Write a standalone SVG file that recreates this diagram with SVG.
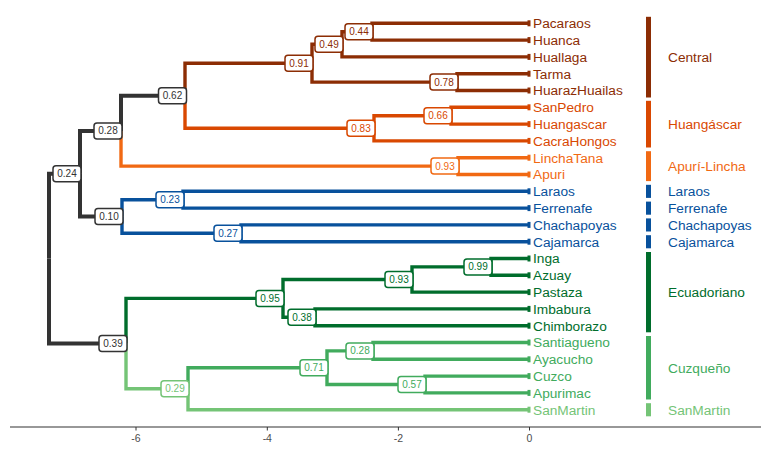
<svg xmlns="http://www.w3.org/2000/svg" width="768" height="451" viewBox="0 0 768 451">
<style>
.br{fill:none;stroke-width:3.4;stroke-linejoin:miter;stroke-linecap:butt}
.gy{stroke:#333333}.ce{stroke:#8C2D04}.hu{stroke:#D94801}.ap{stroke:#F16913}.bl{stroke:#08519C}.ec{stroke:#006D2C}.cu{stroke:#41AB5D}.sm{stroke:#74C476}
.gyf{fill:#333333}.cef{fill:#8C2D04}.huf{fill:#D94801}.apf{fill:#F16913}.blf{fill:#08519C}.ecf{fill:#006D2C}.cuf{fill:#41AB5D}.smf{fill:#74C476}
.tip{font-family:"Liberation Sans",Arial,sans-serif;font-size:13.7px}
.grp{font-family:"Liberation Sans",Arial,sans-serif;font-size:13.7px}
.sup rect{fill:#ffffff;stroke-width:1.5}
.sup text{font-family:"Liberation Sans",Arial,sans-serif;font-size:10px;text-anchor:middle}
.axis{font-family:"Liberation Sans",Arial,sans-serif;font-size:10.5px;fill:#4D4D4D;text-anchor:middle}
</style>
<rect width="768" height="451" fill="#ffffff"/>
<g id="connectors">
<!-- root -->
<path class="br gy" style="stroke-width:4" d="M49,258.6V173.7H80"/>
<path class="br gy" style="stroke-width:4" d="M49,258.6V343.5H126"/>
<!-- A -->
<path class="br gy" style="stroke-width:4" d="M80,173.7V130.9H121"/>
<path class="br gy" style="stroke-width:4" d="M80,173.7V216.5H122"/>
<!-- C -->
<path class="br gy" style="stroke-width:4" d="M121,130.9V95.75H185"/>
<path class="br ap" d="M121,130.9V166.1H458"/>
<!-- E -->
<path class="br ce" d="M185,95.75V63.2H312"/>
<path class="br hu" d="M185,95.75V128.3H374"/>
<!-- G -->
<path class="br ce" d="M312,63.2V44.3H342"/>
<path class="br ce" d="M312,63.2V82.1H457"/>
<!-- H -->
<path class="br ce" d="M342,44.3V31.7H372"/>
<path class="br ce" d="M342,44.3V56.9H530"/>
<!-- J -->
<path class="br ce" d="M372,31.7V23.3H530"/>
<path class="br ce" d="M372,31.7V40.1H530"/>
<!-- I -->
<path class="br ce" d="M457,82.1V73.7H530"/>
<path class="br ce" d="M457,82.1V90.5H530"/>
<!-- K -->
<path class="br hu" d="M374,128.3V115.7H451"/>
<path class="br hu" d="M374,128.3V140.9H530"/>
<!-- L -->
<path class="br hu" d="M451,115.7V107.3H530"/>
<path class="br hu" d="M451,115.7V124.1H530"/>
<!-- M -->
<path class="br ap" d="M458,166.1V157.7H530"/>
<path class="br ap" d="M458,166.1V174.5H530"/>
<!-- D -->
<path class="br bl" d="M122,216.5V199.7H183"/>
<path class="br bl" d="M122,216.5V233.3H241"/>
<!-- N -->
<path class="br bl" d="M183,199.7V191.3H530"/>
<path class="br bl" d="M183,199.7V208.1H530"/>
<!-- O -->
<path class="br bl" d="M241,233.3V224.9H530"/>
<path class="br bl" d="M241,233.3V241.7H530"/>
<!-- B -->
<path class="br ec" d="M126,343.5V298.4H283"/>
<path class="br sm" d="M126,343.5V388.7H188"/>
<!-- P -->
<path class="br ec" d="M283,298.4V279.5H412"/>
<path class="br ec" d="M283,298.4V317.3H315"/>
<!-- Q -->
<path class="br ec" d="M412,279.5V266.9H491"/>
<path class="br ec" d="M412,279.5V292.1H530"/>
<!-- S -->
<path class="br ec" d="M491,266.9V258.5H530"/>
<path class="br ec" d="M491,266.9V275.3H530"/>
<!-- R -->
<path class="br ec" d="M315,317.3V308.9H530"/>
<path class="br ec" d="M315,317.3V325.7H530"/>
<!-- W -->
<path class="br cu" d="M188,388.7V367.7H327"/>
<path class="br sm" d="M188,388.7V409.7H530"/>
<!-- T -->
<path class="br cu" d="M327,367.7V350.9H373"/>
<path class="br cu" d="M327,367.7V384.5H425"/>
<!-- U -->
<path class="br cu" d="M373,350.9V342.5H530"/>
<path class="br cu" d="M373,350.9V359.3H530"/>
<!-- V -->
<path class="br cu" d="M425,384.5V376.1H530"/>
<path class="br cu" d="M425,384.5V392.9H530"/>
</g>
<g id="tips">
<g id="tip-Pacaraos"><rect class="cef" x="527.5" y="20.3" width="3" height="6"/><text class="tip cef" x="533" y="28.1">Pacaraos</text></g>
<g id="tip-Huanca"><rect class="cef" x="527.5" y="37.1" width="3" height="6"/><text class="tip cef" x="533" y="44.9">Huanca</text></g>
<g id="tip-Huallaga"><rect class="cef" x="527.5" y="53.9" width="3" height="6"/><text class="tip cef" x="533" y="61.7">Huallaga</text></g>
<g id="tip-Tarma"><rect class="cef" x="527.5" y="70.7" width="3" height="6"/><text class="tip cef" x="533" y="78.5">Tarma</text></g>
<g id="tip-HuarazHuailas"><rect class="cef" x="527.5" y="87.5" width="3" height="6"/><text class="tip cef" x="533" y="95.3">HuarazHuailas</text></g>
<g id="tip-SanPedro"><rect class="huf" x="527.5" y="104.3" width="3" height="6"/><text class="tip huf" x="533" y="112.1">SanPedro</text></g>
<g id="tip-Huangascar"><rect class="huf" x="527.5" y="121.1" width="3" height="6"/><text class="tip huf" x="533" y="128.9">Huangascar</text></g>
<g id="tip-CacraHongos"><rect class="huf" x="527.5" y="137.9" width="3" height="6"/><text class="tip huf" x="533" y="145.7">CacraHongos</text></g>
<g id="tip-LinchaTana"><rect class="apf" x="527.5" y="154.7" width="3" height="6"/><text class="tip apf" x="533" y="162.5">LinchaTana</text></g>
<g id="tip-Apuri"><rect class="apf" x="527.5" y="171.5" width="3" height="6"/><text class="tip apf" x="533" y="179.3">Apuri</text></g>
<g id="tip-Laraos"><rect class="blf" x="527.5" y="188.3" width="3" height="6"/><text class="tip blf" x="533" y="196.1">Laraos</text></g>
<g id="tip-Ferrenafe"><rect class="blf" x="527.5" y="205.1" width="3" height="6"/><text class="tip blf" x="533" y="212.9">Ferrenafe</text></g>
<g id="tip-Chachapoyas"><rect class="blf" x="527.5" y="221.9" width="3" height="6"/><text class="tip blf" x="533" y="229.7">Chachapoyas</text></g>
<g id="tip-Cajamarca"><rect class="blf" x="527.5" y="238.7" width="3" height="6"/><text class="tip blf" x="533" y="246.5">Cajamarca</text></g>
<g id="tip-Inga"><rect class="ecf" x="527.5" y="255.5" width="3" height="6"/><text class="tip ecf" x="533" y="263.3">Inga</text></g>
<g id="tip-Azuay"><rect class="ecf" x="527.5" y="272.3" width="3" height="6"/><text class="tip ecf" x="533" y="280.1">Azuay</text></g>
<g id="tip-Pastaza"><rect class="ecf" x="527.5" y="289.1" width="3" height="6"/><text class="tip ecf" x="533" y="296.9">Pastaza</text></g>
<g id="tip-Imbabura"><rect class="ecf" x="527.5" y="305.9" width="3" height="6"/><text class="tip ecf" x="533" y="313.7">Imbabura</text></g>
<g id="tip-Chimborazo"><rect class="ecf" x="527.5" y="322.7" width="3" height="6"/><text class="tip ecf" x="533" y="330.5">Chimborazo</text></g>
<g id="tip-Santiagueno"><rect class="cuf" x="527.5" y="339.5" width="3" height="6"/><text class="tip cuf" x="533" y="347.3">Santiagueno</text></g>
<g id="tip-Ayacucho"><rect class="cuf" x="527.5" y="356.3" width="3" height="6"/><text class="tip cuf" x="533" y="364.1">Ayacucho</text></g>
<g id="tip-Cuzco"><rect class="cuf" x="527.5" y="373.1" width="3" height="6"/><text class="tip cuf" x="533" y="380.9">Cuzco</text></g>
<g id="tip-Apurimac"><rect class="cuf" x="527.5" y="389.9" width="3" height="6"/><text class="tip cuf" x="533" y="397.7">Apurimac</text></g>
<g id="tip-SanMartin"><rect class="smf" x="527.5" y="406.7" width="3" height="6"/><text class="tip smf" x="533" y="414.5">SanMartin</text></g>
</g>
<g id="supports">
<g id="n-A" class="sup"><rect class="gy" x="53" y="165.7" width="28" height="16" rx="3"/><text class="gyf" x="67" y="177.2">0.24</text></g>
<g id="n-C" class="sup"><rect class="gy" x="94" y="122.9" width="28" height="16" rx="3"/><text class="gyf" x="108" y="134.4">0.28</text></g>
<g id="n-E" class="sup"><rect class="gy" x="158.5" y="87.75" width="28" height="16" rx="3"/><text class="gyf" x="172.5" y="99.25">0.62</text></g>
<g id="n-G" class="sup"><rect class="ce" x="285" y="55.2" width="28" height="16" rx="3"/><text class="cef" x="299" y="66.7">0.91</text></g>
<g id="n-H" class="sup"><rect class="ce" x="315" y="36.3" width="28" height="16" rx="3"/><text class="cef" x="329" y="47.8">0.49</text></g>
<g id="n-J" class="sup"><rect class="ce" x="345" y="23.7" width="28" height="16" rx="3"/><text class="cef" x="359" y="35.2">0.44</text></g>
<g id="n-I" class="sup"><rect class="ce" x="430" y="74.1" width="28" height="16" rx="3"/><text class="cef" x="444" y="85.6">0.78</text></g>
<g id="n-K" class="sup"><rect class="hu" x="347" y="120.3" width="28" height="16" rx="3"/><text class="huf" x="361" y="131.8">0.83</text></g>
<g id="n-L" class="sup"><rect class="hu" x="424" y="107.7" width="28" height="16" rx="3"/><text class="huf" x="438" y="119.2">0.66</text></g>
<g id="n-M" class="sup"><rect class="ap" x="431" y="158.1" width="28" height="16" rx="3"/><text class="apf" x="445" y="169.6">0.93</text></g>
<g id="n-D" class="sup"><rect class="gy" x="95" y="208.5" width="28" height="16" rx="3"/><text class="gyf" x="109" y="220">0.10</text></g>
<g id="n-N" class="sup"><rect class="bl" x="156" y="191.7" width="28" height="16" rx="3"/><text class="blf" x="170" y="203.2">0.23</text></g>
<g id="n-O" class="sup"><rect class="bl" x="214" y="225.3" width="28" height="16" rx="3"/><text class="blf" x="228" y="236.8">0.27</text></g>
<g id="n-B" class="sup"><rect class="gy" x="99" y="335.5" width="28" height="16" rx="3"/><text class="gyf" x="113" y="347">0.39</text></g>
<g id="n-P" class="sup"><rect class="ec" x="256" y="290.4" width="28" height="16" rx="3"/><text class="ecf" x="270" y="301.9">0.95</text></g>
<g id="n-Q" class="sup"><rect class="ec" x="385" y="271.5" width="28" height="16" rx="3"/><text class="ecf" x="399" y="283">0.93</text></g>
<g id="n-S" class="sup"><rect class="ec" x="464" y="258.9" width="28" height="16" rx="3"/><text class="ecf" x="478" y="270.4">0.99</text></g>
<g id="n-R" class="sup"><rect class="ec" x="288" y="309.3" width="28" height="16" rx="3"/><text class="ecf" x="302" y="320.8">0.38</text></g>
<g id="n-W" class="sup"><rect class="sm" x="161" y="380.7" width="28" height="16" rx="3"/><text class="smf" x="175" y="392.2">0.29</text></g>
<g id="n-T" class="sup"><rect class="cu" x="300" y="359.7" width="28" height="16" rx="3"/><text class="cuf" x="314" y="371.2">0.71</text></g>
<g id="n-U" class="sup"><rect class="cu" x="346" y="342.9" width="28" height="16" rx="3"/><text class="cuf" x="360" y="354.4">0.28</text></g>
<g id="n-V" class="sup"><rect class="cu" x="398" y="376.5" width="28" height="16" rx="3"/><text class="cuf" x="412" y="388">0.57</text></g>
</g>
<g id="groups">
<g id="grp-Central"><rect class="cef" x="646" y="16.8" width="5" height="80.7"/><text class="grp cef" x="668" y="62">Central</text></g>
<g id="grp-Huangascar"><rect class="huf" x="646" y="100.8" width="5" height="46.7"/><text class="grp huf" x="668" y="129">Huangáscar</text></g>
<g id="grp-Apuri"><rect class="apf" x="646" y="151.2" width="5" height="29.9"/><text class="grp apf" x="668" y="171">Apurí-Lincha</text></g>
<g id="grp-Laraos"><rect class="blf" x="646" y="184.8" width="5" height="13.1"/><text class="grp blf" x="668" y="196.1">Laraos</text></g>
<g id="grp-Ferrenafe"><rect class="blf" x="646" y="201.6" width="5" height="13.1"/><text class="grp blf" x="668" y="212.9">Ferrenafe</text></g>
<g id="grp-Chachapoyas"><rect class="blf" x="646" y="218.4" width="5" height="13.1"/><text class="grp blf" x="668" y="229.7">Chachapoyas</text></g>
<g id="grp-Cajamarca"><rect class="blf" x="646" y="235.2" width="5" height="13.1"/><text class="grp blf" x="668" y="246.5">Cajamarca</text></g>
<g id="grp-Ecuadoriano"><rect class="ecf" x="646" y="252" width="5" height="80.3"/><text class="grp ecf" x="668" y="297">Ecuadoriano</text></g>
<g id="grp-Cuzqueno"><rect class="cuf" x="646" y="336" width="5" height="63.5"/><text class="grp cuf" x="668" y="372.9">Cuzqueño</text></g>
<g id="grp-SanMartin"><rect class="smf" x="646" y="403.2" width="5" height="13.1"/><text class="grp smf" x="668" y="414.5">SanMartin</text></g>
</g>
<g id="axis">
<line x1="10" y1="427" x2="761" y2="427" stroke="#333333" stroke-width="1.2"/>
<g stroke="#333333" stroke-width="1"><line x1="136" y1="427" x2="136" y2="430.5"/><line x1="267.3" y1="427" x2="267.3" y2="430.5"/><line x1="398.4" y1="427" x2="398.4" y2="430.5"/><line x1="529.5" y1="427" x2="529.5" y2="430.5"/></g>
<text class="axis" x="136" y="442">-6</text>
<text class="axis" x="267.3" y="442">-4</text>
<text class="axis" x="398.4" y="442">-2</text>
<text class="axis" x="529.5" y="442">0</text>
</g>
</svg>
